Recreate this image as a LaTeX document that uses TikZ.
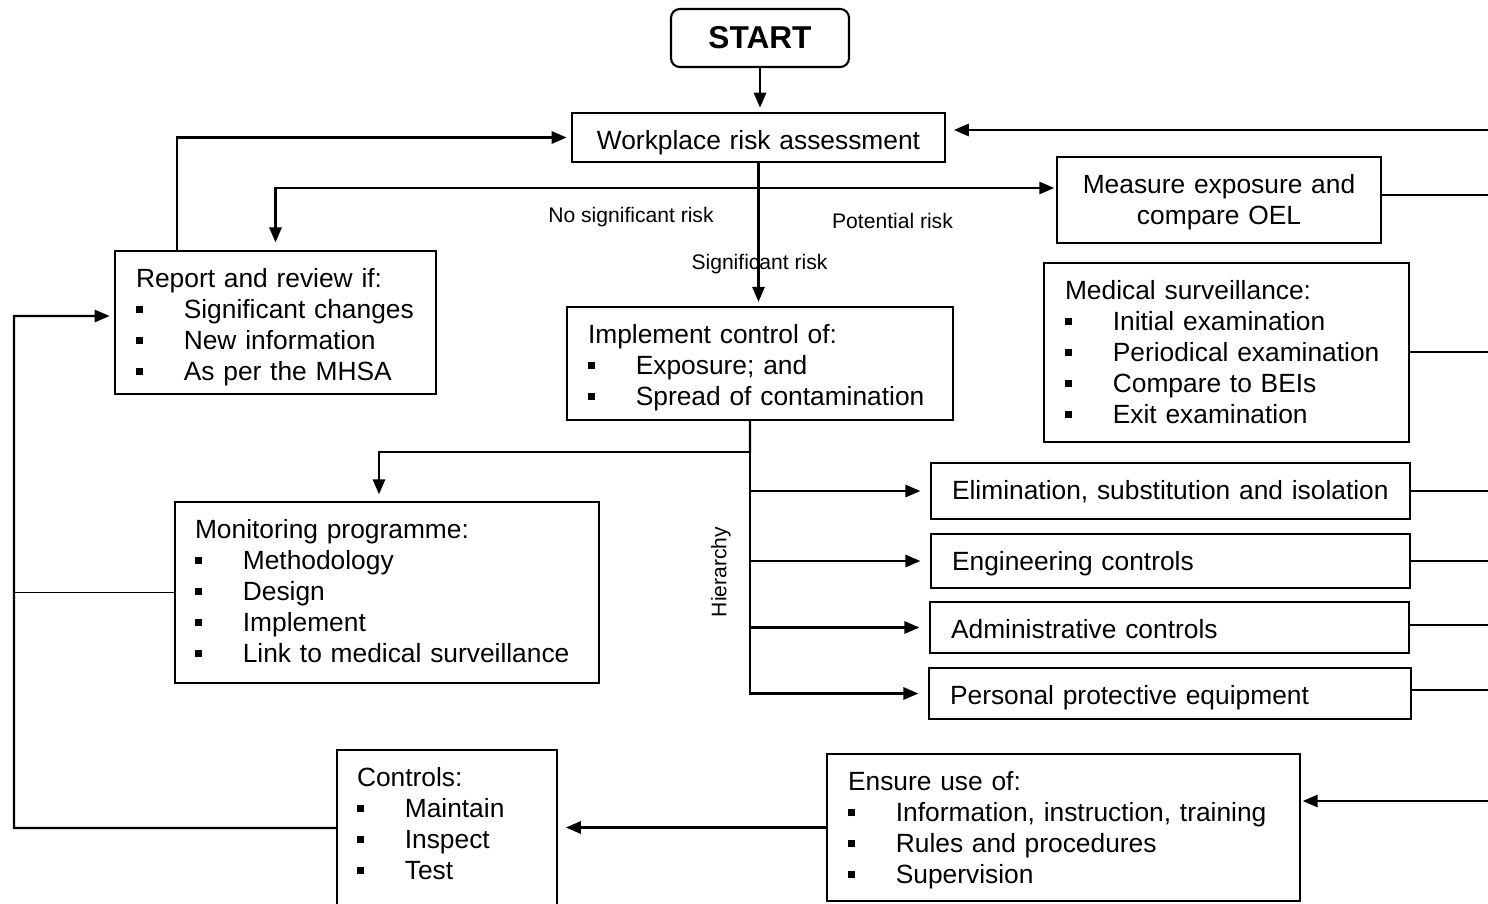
\documentclass[tikz,border=0pt]{standalone}
\usepackage{fontspec}
\setmainfont{Liberation Sans}
\usetikzlibrary{arrows.meta}
\newcommand{\bl}[1]{\mbox{\makebox[27.2pt][l]{\rule[3pt]{3.8pt}{4pt}}#1}}
\tikzset{
  bx/.style={draw, line width=1.2pt, rectangle, inner ysep=0pt, inner xsep=0.42cm,
    font=\fontsize{15}{17.6}\selectfont, align=left, text height=20.7pt},
  arr/.style={line width=1.2pt, -{Triangle[length=8.5pt,width=7pt]}, shorten >=2.5pt},
  ln/.style={line width=0.8pt},
  lab/.style={font=\fontsize{12}{14}\selectfont, inner sep=0pt},
}
\begin{document}
\begin{tikzpicture}[x=0.02cm, y=-0.02cm]
\useasboundingbox (0,0) rectangle (1488,903);
\clip (0,0) rectangle (1488,903);

% nodes
\node[draw, line width=1.2pt, rounded corners=5pt, minimum width=3.56cm, minimum height=1.16cm,
  font=\fontsize{18}{20}\selectfont\bfseries] (start) at (760,38) {START};
\node[bx, align=center, minimum width=7.46cm, text width=6.62cm, text depth=7.08pt] (wra) at (758.5,137.5)
  {Workplace risk assessment};
\node[bx, align=center, minimum width=6.48cm, text width=5.64cm, text depth=28.06pt] (meas) at (1219,200)
  {Measure exposure and\\compare OEL};
\node[bx, minimum width=6.42cm, text width=5.58cm, text depth=60.37pt] (rep) at (275.5,322.5)
  {\mbox{Report and review if:}\\\bl{Significant changes}\\\bl{New information}\\\bl{As per the MHSA}};
\node[bx, minimum width=7.72cm, text width=6.88cm, text depth=43.36pt] (impl) at (760,363.5)
  {\mbox{Implement control of:}\\\bl{Exposure; and}\\\bl{Spread of contamination}};
\node[bx, minimum width=7.30cm, text width=6.46cm, text depth=80.78pt] (med) at (1226.5,352.5)
  {\mbox{Medical surveillance:}\\\bl{Initial examination}\\\bl{Periodical examination}\\\bl{Compare to BEIs}\\\bl{Exit examination}};
\node[bx, minimum width=9.58cm, text width=8.74cm, text depth=11.05pt] (elim) at (1170.5,491)
  {\mbox{Elimination, substitution and isolation}};
\node[bx, minimum width=9.58cm, text width=8.74cm, text depth=9.91pt] (eng) at (1170.5,561)
  {\mbox{Engineering controls}};
\node[bx, minimum width=9.58cm, text width=8.74cm, text depth=8.21pt] (adm) at (1169.5,627.5)
  {\mbox{Administrative controls}};
\node[bx, minimum width=9.64cm, text width=8.80cm, text depth=8.21pt] (ppe) at (1170,693.5)
  {\mbox{Personal protective equipment}};
\node[bx, inner xsep=0.40cm, minimum width=8.48cm, text width=7.68cm, text depth=81.91pt] (mon) at (387,592.5)
  {\mbox{Monitoring programme:}\\\bl{Methodology}\\\bl{Design}\\\bl{Implement}\\\bl{Link to medical surveillance}};
\node[bx, inner xsep=0.40cm, minimum width=4.40cm, text width=3.60cm, text depth=79.08pt] (ctrl) at (447,838)
  {\mbox{Controls:}\\\bl{Maintain}\\\bl{Inspect}\\\bl{Test}};
\node[bx, minimum width=9.46cm, text width=8.62cm, text depth=62.64pt] (ens) at (1063.5,827.5)
  {\mbox{Ensure use of:}\\\bl{Information, instruction, training}\\\bl{Rules and procedures}\\\bl{Supervision}};

% labels
\node[lab] (nsr) at (631,217.5) {No significant risk};
\node[lab] (pr) at (892.5,221) {Potential risk};
\node[lab] (sr) at (759.5,264) {Significant risk};
\node[lab, rotate=90] (hier) at (721,572) {Hierarchy};

% coordinates
\coordinate (split) at (759,188);
\coordinate (hb) at (750,452);
\coordinate (L) at (14,316);
\coordinate (eA) at (1488,130);
\coordinate (eB) at (1488,195);
\coordinate (eC) at (1488,352);
\coordinate (eD) at (1488,491);
\coordinate (eE) at (1488,561);
\coordinate (eF) at (1488,625);
\coordinate (eG) at (1488,690);
\coordinate (eH) at (1488,801);

% connectors
\draw[arr] (start.south) -- (start.south |- wra.north);
\draw[arr, shorten >=4.5pt] (eA) -- (eA -| wra.east);
\draw[arr] ([xshift=1.26cm]rep.north west) |- (wra.west);
\draw[arr] (wra.south) -- (wra.south |- impl.north);
\draw[arr, shorten >=1pt] (split) -- (split -| meas.west);
\draw[arr, shorten >=4.5pt] (split) -| (rep.north);
\draw[ln] (meas.east |- eB) -- (eB);
\draw[ln] (med.east |- eC) -- (eC);
\draw[ln] (elim.east |- eD) -- (eD);
\draw[ln] (eng.east |- eE) -- (eE);
\draw[ln] (adm.east |- eF) -- (eF);
\draw[ln] (ppe.east |- eG) -- (eG);
\draw[arr, shorten >=1pt] (eH) -- (eH -| ens.east);

% hierarchy
\draw[line width=1.2pt] ([xshift=-0.2cm]impl.south) -- (hb);
\draw[arr, shorten >=4pt] (hb) -| ([xshift=-0.16cm]mon.north);
\draw[arr, shorten >=5.5pt] (hb) |- (ppe.west);
\draw[arr, shorten >=5.5pt] (hb |- elim.west) -- (elim.west);
\draw[arr, shorten >=5.5pt] (hb |- eng.west) -- (eng.west);
\draw[arr, shorten >=5.5pt] (hb |- adm.west) -- (adm.west);

% loops on the left
\draw[ln] (mon.west) -- (mon.west -| L);
\draw[arr] ([yshift=0.2cm]ctrl.west) -| (L) -- ([yshift=0.13cm]rep.west);
\draw[arr, shorten >=4.5pt] (ens.west) -- (ens.west -| ctrl.east);
\end{tikzpicture}
\end{document}
